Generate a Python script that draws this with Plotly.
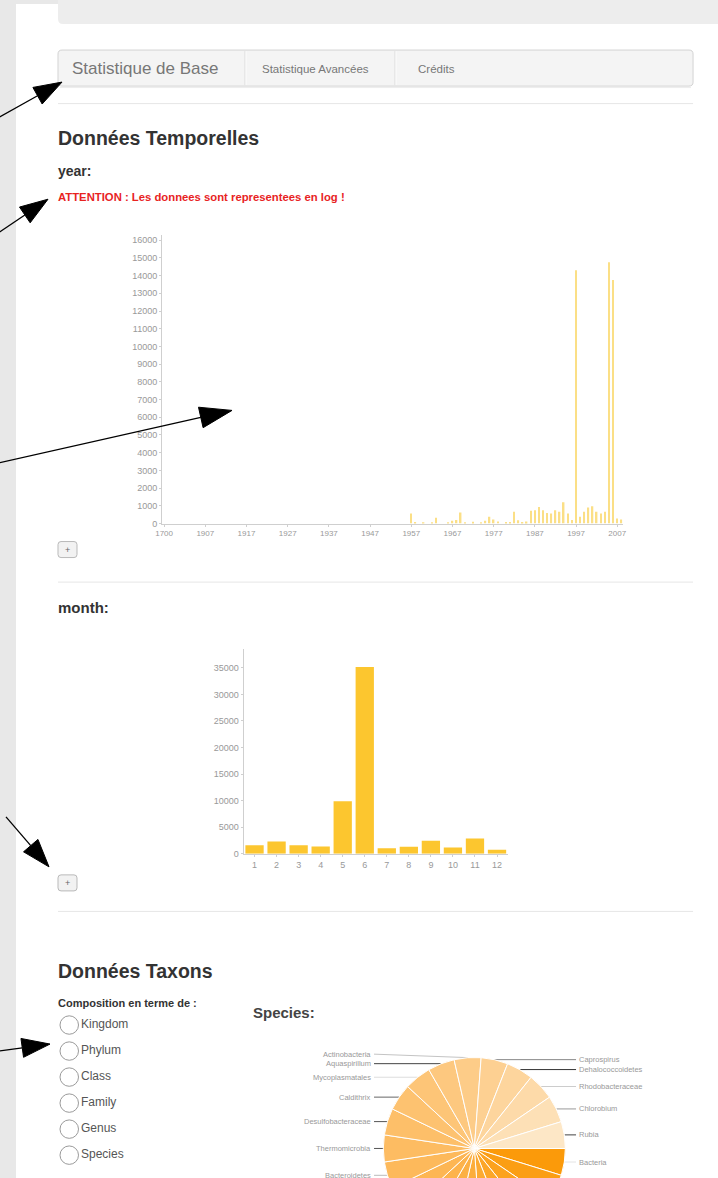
import math
import plotly.graph_objects as go

# ── Page size (px) ────────────────────────────────────────────────────────────
W, H = 718, 1250          # the window shows the top part, the pie runs past it
OX, SX, SY = 7, 0.986, 0.995   # measured offset/scale of the captured page

# ── Données : year ────────────────────────────────────────────────────────────
YEARS = [
    "1700",
    "1898", "1899", "1900", "1901", "1902", "1903", "1904", "1905", "1906", "1907",
    "1908", "1909", "1910", "1911", "1912", "1913", "1914", "1915", "1916", "1917",
    "1918", "1919", "1920", "1921", "1922", "1923", "1924", "1925", "1926", "1927",
    "1928", "1929", "1930", "1931", "1932", "1933", "1934", "1935", "1936", "1937",
    "1938", "1939", "1940", "1941", "1942", "1943", "1944", "1945", "1946", "1947",
    "1948", "1949", "1950", "1951", "1952", "1953", "1954", "1955", "1956", "1957",
    "1958", "1959", "1960", "1961", "1962", "1963", "1964", "1965", "1966", "1967",
    "1968", "1969", "1970", "1971", "1972", "1973", "1974", "1975", "1976", "1977",
    "1978", "1979", "1980", "1981", "1982", "1983", "1984", "1985", "1986", "1987",
    "1988", "1989", "1990", "1991", "1992", "1993", "1994", "1995", "1996", "1997",
    "1998", "1999", "2000", "2001", "2002", "2003", "2004", "2005", "2006", "2007",
    "2008",
]
YEAR_COUNTS = [
    0,
    0, 0, 0, 0, 0, 0, 0, 0, 0, 0,
    0, 0, 0, 0, 0, 0, 0, 0, 0, 0,
    0, 0, 0, 0, 0, 0, 0, 0, 0, 0,
    0, 0, 0, 0, 0, 0, 0, 0, 0, 0,
    0, 0, 0, 0, 0, 0, 0, 0, 0, 0,
    0, 0, 0, 0, 0, 0, 0, 0, 0, 565,
    90, 0, 60, 0, 40, 320, 0, 0, 70, 150,
    200, 620, 40, 0, 100, 0, 60, 150, 380, 230,
    120, 0, 80, 90, 660, 190, 80, 110, 720, 750,
    940, 750, 600, 560, 750, 660, 1200, 560, 200, 14300,
    380, 660, 900, 980, 660, 560, 660, 14750, 13750, 280,
    230,
]
YEAR_TICKS = YEARS[::10]

# ── Données : month ───────────────────────────────────────────────────────────
MONTHS = ["1", "2", "3", "4", "5", "6", "7", "8", "9", "10", "11", "12"]
MONTH_COUNTS = [1630, 2320, 1630, 1380, 9910, 35130, 1070, 1320, 2450, 1190, 2890, 750]

# ── Données : taxons (Species) ────────────────────────────────────────────────
TAXA = [
    "Bacteria", "Firmicutes", "Proteobacteria", "Cyanobacteria", "Spirochaetes",
    "Chlamydiae", "Planctomycetes", "Nitrospira", "Verrucomicrobia",
    "Bacteroidetes", "Thermomicrobia", "Desulfobacteraceae", "Caldithrix",
    "Mycoplasmatales", "Aquaspirillum", "Actinobacteria", "Caprospirus",
    "Dehalococcoidetes", "Rhodobacteraceae", "Chlorobium", "Rubia",
]
TAXA_COUNTS = [1, 1, 1, 1, 1, 1, 1, 1, 1, 1, 1, 1, 1, 1, 1, 1, 1, 1, 1, 1, 1]
RANKS = ["Kingdom", "Phylum", "Class", "Family", "Genus", "Species"]

# ── Style ─────────────────────────────────────────────────────────────────────
FONT = "Liberation Sans, Arial, sans-serif"
PIE_COLORS = [
    "#fb9a0a", "#fb9e14", "#fca21e", "#fca628", "#fcaa32", "#fcad3b", "#fcb044",
    "#fdb34c", "#fdb654", "#fdb95b", "#fdbc62", "#fdbf69", "#fdc270", "#fdc577",
    "#fdc87f", "#fdcc88", "#fdd092", "#fdd59d", "#fddaa9", "#fde0b6", "#fde7c6",
]
LEADER_COLORS = [
    "#e4e4e4", "#999", "#999", "#999", "#999", "#999", "#999", "#999", "#999",
    "#bbb", "#555", "#555", "#666", "#ddd", "#444", "#c4c4c4", "#888",
    "#333", "#ccc", "#999", "#444",
]
AXIS = dict(showline=True, linecolor="#cfcfcf", linewidth=1, showgrid=False,
            zeroline=False, ticks="outside", ticklen=2, tickcolor="#cfcfcf",
            tickfont=dict(size=9, color="#999", family=FONT), fixedrange=True)


def X(px):
    return (px - OX) / SX / W


def Y(py):
    return 1 - py / SY / H


shapes, annotations = [], []


def rect(x0, y0, x1, y1, fill, line=None):
    shapes.append(dict(type="rect", xref="paper", yref="paper", layer="below",
                       x0=X(x0), x1=X(x1), y0=Y(y1), y1=Y(y0), fillcolor=fill,
                       line=dict(color=line or fill, width=1 if line else 0)))


def rrect(x0, y0, x1, y1, r, fill, line=None):
    p = (f"M{X(x0 + r)},{Y(y0)} H{X(x1 - r)} Q{X(x1)},{Y(y0)} {X(x1)},{Y(y0 + r)} "
         f"V{Y(y1 - r)} Q{X(x1)},{Y(y1)} {X(x1 - r)},{Y(y1)} H{X(x0 + r)} "
         f"Q{X(x0)},{Y(y1)} {X(x0)},{Y(y1 - r)} V{Y(y0 + r)} Q{X(x0)},{Y(y0)} {X(x0 + r)},{Y(y0)} Z")
    shapes.append(dict(type="path", xref="paper", yref="paper", layer="below", path=p,
                       fillcolor=fill, line=dict(color=line or fill, width=1 if line else 0)))


def hline(x0, x1, y, color, width=1, layer="below"):
    shapes.append(dict(type="line", xref="paper", yref="paper", layer=layer,
                       x0=X(x0), x1=X(x1), y0=Y(y), y1=Y(y), line=dict(color=color, width=width)))


def seg(x0, y0, x1, y1, color, width=1, layer="above"):
    shapes.append(dict(type="line", xref="paper", yref="paper", layer=layer,
                       x0=X(x0), x1=X(x1), y0=Y(y0), y1=Y(y1), line=dict(color=color, width=width)))


def txt(x, y, s, size, color="#333", bold=False, anchor="left"):
    annotations.append(dict(x=X(x), y=Y(y), xref="paper", yref="paper", showarrow=False,
                            text=f"<b>{s}</b>" if bold else s, xanchor=anchor, yanchor="middle",
                            borderpad=0, font=dict(size=size, color=color, family=FONT)))


def arrow(tail, tip, length=28, width=19):
    dx, dy = tip[0] - tail[0], tip[1] - tail[1]
    n = math.hypot(dx, dy)
    ux, uy = dx / n, dy / n
    bx, by = tip[0] - ux * length, tip[1] - uy * length
    nx, ny = -uy * width / 2, ux * width / 2
    seg(tail[0], tail[1], bx, by, "black", 1.3)
    p = (f"M{X(tip[0])},{Y(tip[1])} L{X(bx + nx)},{Y(by + ny)} "
         f"L{X(bx - nx)},{Y(by - ny)} Z")
    shapes.append(dict(type="path", xref="paper", yref="paper", layer="above", path=p,
                       fillcolor="black", line=dict(color="black", width=1)))


# ── Page chrome ──────────────────────────────────────────────────────────────
rect(-10, -2, 16, H * 1.1, "#e8e8e8")
rect(-10, -2, W + 20, 4, "#e8e8e8")
rrect(58, -10, W + 20, 24, 5, "#ededed")

rrect(58, 50, 693, 86, 4, "#f4f4f4", "#d3d3d3")
hline(60, 691, 87.5, "#ececec")
for sx in (245, 395):
    seg(sx, 51, sx, 85, "#dadada", 1, "below")
    seg(sx + 1, 51, sx + 1, 85, "#fbfbfb", 1, "below")
txt(71, 68, "Statistique de Base", 17, "#777")
txt(261, 69, "Statistique Avancées", 11.5, "#777")
txt(417, 69, "Crédits", 11.5, "#777")

for hy in (103.5, 581.5, 910.5):
    hline(58, 693, hy, "#e6e6e6")

txt(57, 138, "Données Temporelles", 19.5, "#333", bold=True)
txt(57, 171, "year:", 14, "#333", bold=True)
txt(57, 197, "ATTENTION : Les donnees sont representees en log !", 11.3, "#e8231f", bold=True)

for by in (541, 874):
    rrect(58, by, 77, by + 16, 3, "#f2f2f2", "#b9b9b9")
    txt(67.5, by + 8, "+", 9, "#666", anchor="center")

txt(57, 607, "month:", 15, "#333", bold=True)

txt(57, 970, "Données Taxons", 19.5, "#333", bold=True)
txt(57, 1002, "Composition en terme de :", 11, "#333", bold=True)
for i, rank in enumerate(RANKS):
    cy = 1024 + 26 * i
    shapes.append(dict(type="circle", xref="paper", yref="paper", layer="below",
                       x0=X(60), x1=X(78.5), y0=Y(cy + 9.2), y1=Y(cy - 9.2),
                       fillcolor="white", line=dict(color="#9a9a9a", width=1)))
    txt(80, cy - 1.5, rank, 12, "#555")
txt(252, 1011, "Species:", 15, "#444", bold=True)

# ── Pie leader lines + labels (angles from the values) ───────────────────────
CX, CY, R = 474.3, 1147.3, 91
total = sum(TAXA_COUNTS)
cum = 0
sides = {"left": [], "right": []}
for name, v, lc in zip(TAXA, TAXA_COUNTS, LEADER_COLORS):
    mid = (cum + v / 2) / total * 2 * math.pi          # clockwise from 3 o'clock
    cum += v
    ex, ey = CX + R * math.cos(mid), CY + R * math.sin(mid)
    if ey > 1182:                                      # below the visible window
        continue
    sides["right" if math.cos(mid) >= 0 else "left"].append([ey, ex, name, lc])

for side, items in sides.items():
    items.sort()
    labels_y = [it[0] for it in items]
    for k in range(len(labels_y) - 2, -1, -1):         # keep labels 9.5 px apart
        labels_y[k] = min(labels_y[k], labels_y[k + 1] - 9.5)
    for (ey, ex, name, lc), ly in zip(items, labels_y):
        if side == "right":
            seg(ex, ey, 576, ly, lc, 1, "below")
            txt(578, ly, name, 7.5, "#999")
        else:
            seg(374, ly, ex, ey, lc, 1, "below")
            txt(372, ly, name, 7.5, "#999", anchor="right")

# ── Annotation arrows ────────────────────────────────────────────────────────
arrow((-8, 121), (62, 82))
arrow((-8, 237), (48, 199))
arrow((-8, 464), (232, 410), 32, 21)
arrow((6, 816), (49, 866))
arrow((-8, 1051), (50, 1043))

# ── Figure ────────────────────────────────────────────────────────────────────
fig = go.Figure()
fig.add_trace(go.Bar(x=YEARS, y=YEAR_COUNTS, width=0.35, marker_color="#fbdf86",
                     marker_line_width=0, xaxis="x", yaxis="y", hoverinfo="skip"))
fig.add_trace(go.Bar(x=MONTHS, y=MONTH_COUNTS, width=0.83, marker_color="#fcc62f",
                     marker_line_width=0, xaxis="x2", yaxis="y2", hoverinfo="skip"))
fig.add_trace(go.Pie(labels=TAXA, values=TAXA_COUNTS, sort=False, direction="clockwise",
                     rotation=90, textinfo="none", hoverinfo="skip",
                     marker=dict(colors=PIE_COLORS, line=dict(color="white", width=1)),
                     domain=dict(x=[X(CX - R), X(CX + R)], y=[Y(CY + R), Y(CY - R)])))

fig.update_layout(
    width=W, height=H,
    margin=dict(l=0, r=0, t=0, b=0),
    paper_bgcolor="white", plot_bgcolor="rgba(0,0,0,0)",
    font=dict(family=FONT, color="#333"),
    showlegend=False,
    xaxis=dict(AXIS, domain=[X(162), X(623.4)], anchor="y", type="category",
               tickmode="array", tickvals=YEAR_TICKS, ticktext=YEAR_TICKS, tickangle=0,
               tickfont=dict(size=8, color="#999", family=FONT)),
    yaxis=dict(AXIS, domain=[Y(523), Y(235)], anchor="x", range=[0, 16280],
               tick0=0, dtick=1000, tickformat="d"),
    xaxis2=dict(AXIS, domain=[X(243.5), X(508)], anchor="y2", type="category", tickangle=0),
    yaxis2=dict(AXIS, domain=[Y(853), Y(648)], anchor="x2", range=[0, 38600],
                tick0=0, dtick=5000, tickformat="d"),
    shapes=shapes,
    annotations=annotations,
)

page_js = ("document.body.style.margin='0';document.body.style.overflow='hidden';"
           "var g='linear-gradient(to right,#e8e8e8 0,#e8e8e8 16px,#fff 16px)';"
           "document.body.style.background=g;document.documentElement.style.background=g;")
fig.write_html("out.html", config={"displayModeBar": False}, post_script=page_js)
